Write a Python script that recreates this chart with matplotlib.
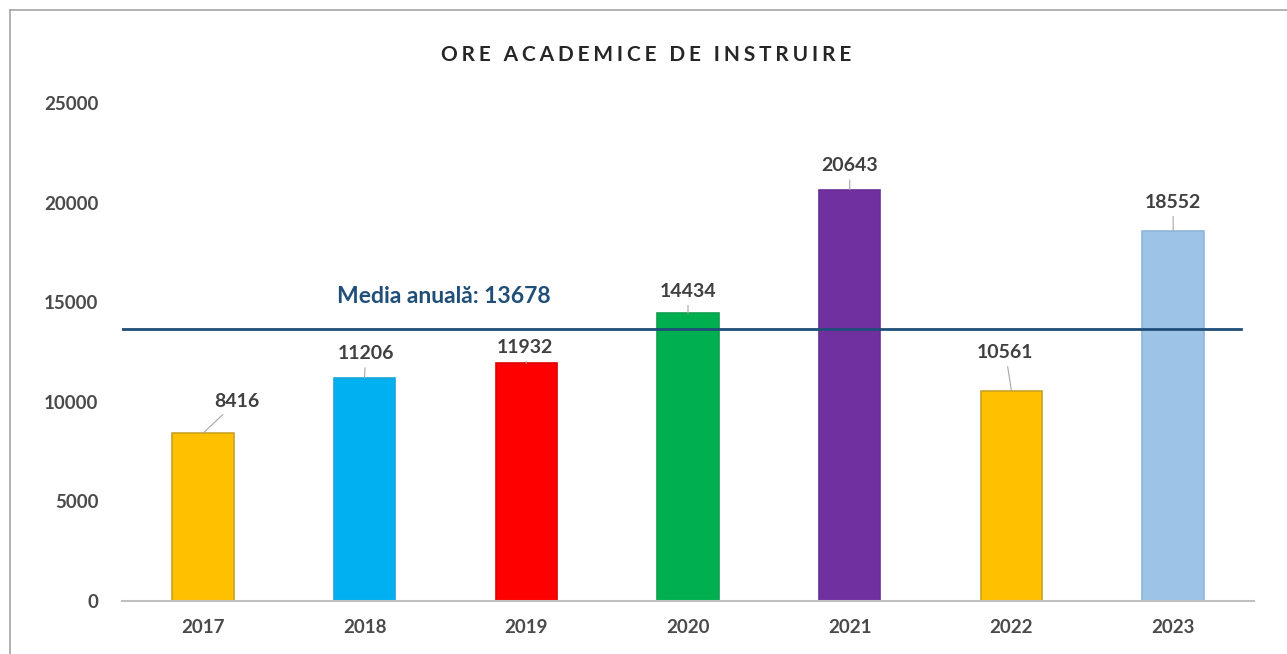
#!/usr/bin/env python3
# -*- coding: utf-8 -*-

import matplotlib
matplotlib.use("Agg")
import matplotlib.pyplot as plt
from matplotlib.lines import Line2D

# ====== DATA ======
years = ["2017", "2018", "2019", "2020", "2021", "2022", "2023"]
hours = [8416, 11206, 11932, 14434, 20643, 10561, 18552]
mean_value = 13678
mean_label = "Media anuală: 13678"
title = "ORE ACADEMICE DE INSTRUIRE"
y_ticks = [0, 5000, 10000, 15000, 20000, 25000]

# ====== STYLE ======
bar_colors = ["#FFC000", "#00B0F0", "#FF0000", "#00B050", "#7030A0", "#FFC000", "#9DC3E6"]
edge_colors = ["#C9A227", "#1AA6DA", "#E00000", "#10A050", "#6A2E96", "#C9A227", "#8DB5DC"]
# posun popisku od vrcholu sloupce (px)
label_offsets_px = [(34, 32), (1, 24), (-1, 16), (0, 22), (0, 24), (-6, 38), (0, 29)]

plt.rcParams["font.family"] = ["Lato", "DejaVu Sans"]

W, H = 1287, 654
fig = plt.figure(figsize=(W / 100, H / 100), dpi=100)
ax = fig.add_axes([122 / W, (H - 601) / H, (1254 - 122) / W, (601 - 103) / H])

x = list(range(len(years)))
ax.bar(x, hours, width=0.38, color=bar_colors, edgecolor=edge_colors, linewidth=1.2, zorder=2)

ax.set_xlim(-0.5, len(years) - 0.5)
ax.set_ylim(0, 25000)
ax.set_yticks(y_ticks)
ax.set_yticklabels([str(t) for t in y_ticks])
ax.set_xticks(x)
ax.set_xticklabels(years)

for s in ["top", "right", "left"]:
    ax.spines[s].set_visible(False)
ax.spines["bottom"].set_color("#BFBFBF")
ax.spines["bottom"].set_linewidth(1.5)
ax.tick_params(axis="both", length=0, labelsize=13.5, labelcolor="#4A4A4A")
ax.tick_params(axis="y", pad=17)
ax.tick_params(axis="x", pad=13)
for lbl in ax.get_xticklabels() + ax.get_yticklabels():
    lbl.set_fontweight("bold")

# průměrná linie
ax.plot([-0.5, 6.42], [mean_value, mean_value], color="#1F4E79", linewidth=2, zorder=3)
ax.text(1.49, mean_value + 1600, mean_label, ha="center", va="center",
        fontsize=16.5, fontweight="bold", color="#1F4E79")

# popisky hodnot
for xi, val, (dx, dy) in zip(x, hours, label_offsets_px):
    ax.annotate(str(val), xy=(xi, val), xytext=(dx * 0.72, dy * 0.72),
                textcoords="offset points", ha="center", va="center",
                fontsize=14, fontweight="bold", color="#404040",
                arrowprops=dict(arrowstyle="-", color="#A6A6A6", lw=0.8,
                                shrinkA=2, shrinkB=0))

# nadpis s prostrkáním písmen
spaced_title = "\u2009\u200a".join(title)
fig.text(646 / W, 1 - 55 / H, spaced_title, ha="center", va="center",
         fontsize=15, fontweight="bold", color="#262626")

# rámeček
fig.add_artist(Line2D([10 / W, 1], [1 - 10 / H, 1 - 10 / H], color="#A6A6A6", lw=1.2))
fig.add_artist(Line2D([10 / W, 10 / W], [0, 1 - 10 / H], color="#A6A6A6", lw=1.2))

fig.savefig("out.png", dpi=100)
